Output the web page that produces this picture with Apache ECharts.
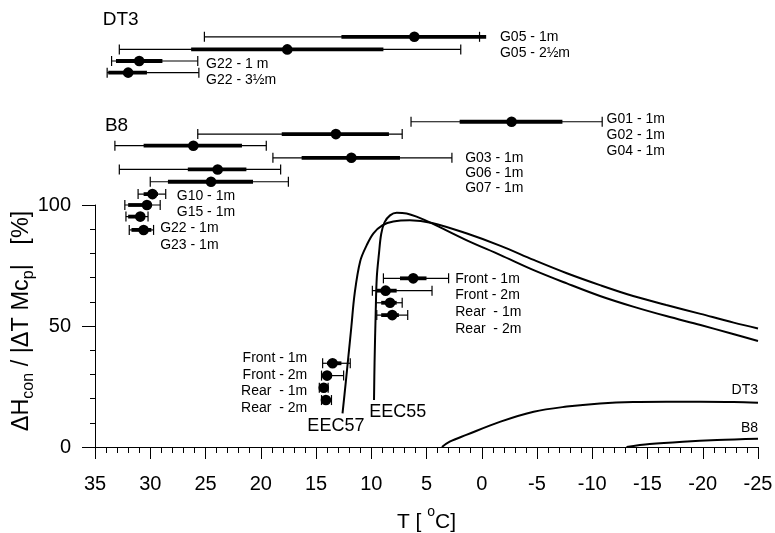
<!DOCTYPE html>
<html>
<head>
<meta charset="utf-8">
<script src="https://cdn.jsdelivr.net/npm/echarts@6/dist/echarts.min.js"></script>
<style>
  html, body { margin: 0; padding: 0; background: #fff; }
  #chart { width: 775px; height: 533px; }
</style>
</head>
<body>
<div id="chart"></div>
<script>
var FONT = "'Liberation Sans', Arial, sans-serif";

// x axis ticks (temperature, reversed)
var tMin = -25, tMax = 35, tStep = 5;

// curves [T, %]
var eec57 = [[12.6, 13.9], [12.3, 27], [12.1, 36], [11.8, 49.7], [11.5, 63.5], [11.0, 76.8], [10.4, 83.5],
  [9.8, 88.3], [9.0, 91.6], [8.0, 93.2], [6.5, 93.7], [4.5, 92.6], [1.4, 88.3], [-1.7, 83.1], [-4.7, 77.3],
  [-7.7, 71.8], [-10.7, 66.9], [-13.7, 62.4], [-16.7, 58.7], [-19.8, 55.0], [-22.8, 51.4], [-25, 49.0]];
var eec55 = [[9.75, 19.4], [9.7, 35], [9.6, 55], [9.5, 70], [9.3, 80], [9.1, 88], [8.8, 92.8], [8.3, 95.7],
  [7.7, 96.8], [6.8, 96.5], [5.9, 95.2], [4.5, 92.4], [1.4, 85.5], [-1.7, 79.3], [-4.7, 73.1], [-7.7, 67.6],
  [-10.7, 62.4], [-13.7, 58.0], [-16.7, 54.1], [-19.8, 50.4], [-22.5, 47.0], [-25, 43.8]];
var dt3Curve = [[3.6, 0], [2.9, 2.2], [1.4, 5.0], [-1.7, 10.5], [-4.7, 14.6], [-7.7, 16.7], [-10.7, 18.0],
  [-13.7, 18.6], [-16.7, 18.7], [-19.8, 18.7], [-22.8, 18.6], [-25, 18.3]];
var b8Curve = [[-13.1, 0], [-15.2, 1.2], [-18.2, 2.2], [-21.3, 2.9], [-25, 3.4]];

// error bars: [y, whisker lo, thick lo, dot, thick hi, whisker hi]
var dt3Bars = [
  [169.5, 25.1, 12.7, 6.1, -0.4, 0.2],
  [164.3, 32.8, 26.3, 17.6, 8.9, 1.9],
  [159.5, 33.5, 33.1, 31.0, 28.9, 25.7],
  [154.7, 33.9, 33.8, 32.0, 30.3, 25.6]
];
var b8Bars = [
  [134.4, 6.4, 2.0, -2.7, -7.3, -10.9],
  [129.3, 25.7, 18.1, 13.2, 8.4, 7.2],
  [124.5, 33.2, 30.6, 26.1, 21.7, 19.5],
  [119.5, 18.9, 16.3, 11.8, 7.4, 2.7],
  [114.7, 32.8, 26.6, 23.9, 21.3, 18.2],
  [109.6, 30.0, 28.4, 24.5, 20.7, 17.5]
];
var smallBars = [
  [104.5, 31.1, 30.6, 29.8, 29.3, 28.6],
  [100.0, 32.3, 32.0, 30.3, 29.9, 29.1],
  [95.2, 32.2, 32.0, 30.9, 30.5, 30.2],
  [89.7, 31.9, 31.7, 30.6, 29.9, 29.7]
];
var eec55Bars = [
  [69.7, 8.9, 7.4, 6.2, 5.0, 3.0],
  [64.6, 9.9, 9.5, 8.7, 7.7, 4.5],
  [59.6, 9.6, 9.1, 8.3, 7.7, 7.2],
  [54.5, 9.5, 9.1, 8.1, 7.5, 6.7]
];
var eec57Bars = [
  [34.6, 14.4, 14.0, 13.5, 12.7, 11.9],
  [29.5, 14.5, 14.3, 14.0, 13.6, 12.5],
  [24.5, 14.7, 14.6, 14.3, 14.0, 13.9],
  [19.4, 14.5, 14.4, 14.1, 13.8, 13.6]
];

// text labels: [T, %, text]
var smallLabelsLeft = [
  [-1.65, 169.4, 'G05 - 1m'], [-1.65, 162.8, 'G05 - 2½m'], [24.95, 158.3, 'G22 - 1 m'], [24.95, 151.7, 'G22 - 3½m'],
  [-11.3, 135.5, 'G01 - 1m'], [-11.3, 128.9, 'G02 - 1m'], [-11.3, 122.3, 'G04 - 1m'],
  [1.5, 119.2, 'G03 - 1m'], [1.5, 113.0, 'G06 - 1m'], [1.5, 106.8, 'G07 - 1m'],
  [27.6, 103.8, 'G10 - 1m'], [27.6, 97.2, 'G15 - 1m'], [29.1, 90.4, 'G22 - 1m'], [29.1, 83.5, 'G23 - 1m'],
  [2.4, 69.4, 'Front - 1m'], [2.4, 62.8, 'Front - 2m'], [2.4, 55.9, 'Rear  - 1m'], [2.4, 48.8, 'Rear  - 2m']
];
var smallLabelsRight = [
  [15.8, 36.6, 'Front - 1m'], [15.8, 29.8, 'Front - 2m'], [15.8, 22.9, 'Rear  - 1m'], [15.8, 16.0, 'Rear  - 2m'],
  [-25, 23.6, 'DT3'], [-25, 7.9, 'B8']
];
var groupTitles = [[34.3, 176.4, 'DT3'], [34.1, 132.9, 'B8']];
var curveNames = [[13.2, 8.8, 'EEC57'], [7.6, 14.6, 'EEC55']];

var chart = echarts.init(document.getElementById('chart'), null, { renderer: 'canvas' });

function barItem(params, api) {
  var y = api.value(0);
  var lo = api.coord([api.value(1), y]);
  var tlo = api.coord([api.value(2), y]);
  var dot = api.coord([api.value(3), y]);
  var thi = api.coord([api.value(4), y]);
  var hi = api.coord([api.value(5), y]);
  var st = { stroke: '#000', lineWidth: 1.2 };
  return {
    type: 'group',
    children: [
      { type: 'line', shape: { x1: lo[0], y1: lo[1], x2: hi[0], y2: hi[1] }, style: st },
      { type: 'line', shape: { x1: lo[0], y1: lo[1] - 5, x2: lo[0], y2: lo[1] + 5 }, style: st },
      { type: 'line', shape: { x1: hi[0], y1: hi[1] - 5, x2: hi[0], y2: hi[1] + 5 }, style: st },
      { type: 'line', shape: { x1: tlo[0], y1: tlo[1], x2: thi[0], y2: thi[1] }, style: { stroke: '#000', lineWidth: 3.8 } },
      { type: 'circle', shape: { cx: dot[0], cy: dot[1], r: 5.3 }, style: { fill: '#000' } }
    ]
  };
}

function barSeries(data) {
  return {
    type: 'custom', data: data, renderItem: barItem, clip: false, silent: true,
    encode: { x: [1, 2, 3, 4, 5], y: 0 }
  };
}

function textSeries(data, size, align) {
  return {
    type: 'custom', data: data, clip: false, silent: true,
    encode: { x: 0, y: 1 },
    renderItem: function (params, api) {
      var p = api.coord([data[params.dataIndex][0], data[params.dataIndex][1]]);
      return {
        type: 'text', x: p[0], y: p[1],
        style: {
          text: data[params.dataIndex][2], fontSize: size, fontFamily: FONT, fill: '#000',
          align: align, verticalAlign: 'middle'
        }
      };
    }
  };
}

function curve(data) {
  return {
    type: 'line', data: data, showSymbol: false, smooth: 0.35, silent: true,
    lineStyle: { color: '#000', width: 2 }
  };
}

chart.setOption({
  animation: false,
  backgroundColor: '#fff',
  grid: { left: 95, right: 17, top: 205, bottom: 86, containLabel: false, outerBoundsMode: 'none' },
  xAxis: {
    type: 'value', inverse: true, min: tMin, max: tMax, interval: tStep,
    axisLine: { onZero: false, lineStyle: { color: '#000', width: 1 } },
    axisTick: { length: 12, lineStyle: { color: '#000', width: 1 } },
    minorTick: { show: true, splitNumber: 5, length: 6, lineStyle: { color: '#000', width: 1 } },
    splitLine: { show: false },
    axisLabel: { fontSize: 20, color: '#000', fontFamily: FONT, margin: 27 },
    name: '{a|T [ }{sup|o}{a|C]}',
    nameLocation: 'middle', nameGap: 58, nameMoveOverlap: false,
    nameTextStyle: {
      fontFamily: FONT, color: '#000',
      rich: {
        a: { fontSize: 21, fontFamily: FONT, color: '#000', lineHeight: 28, verticalAlign: 'bottom' },
        sup: { fontSize: 14, fontFamily: FONT, color: '#000', lineHeight: 28, verticalAlign: 'top' }
      }
    }
  },
  yAxis: {
    type: 'value', min: 0, max: 100, interval: 50,
    axisLine: { show: true, onZero: false, lineStyle: { color: '#000', width: 1 } },
    axisTick: { show: true, length: 13, lineStyle: { color: '#000', width: 1 } },
    minorTick: { show: true, splitNumber: 5, length: 5, lineStyle: { color: '#000', width: 1 } },
    splitLine: { show: false },
    axisLabel: { fontSize: 20, color: '#000', fontFamily: FONT, margin: 24 },
    name: '{a|ΔH}{s|con}{a| / |ΔT Mc}{s|p}{a||   [%]}',
    nameLocation: 'middle', nameGap: 58, nameRotate: 90, nameMoveOverlap: false,
    nameTextStyle: {
      fontFamily: FONT, color: '#000', padding: [0, 0, 0, 10],
      rich: {
        a: { fontSize: 23.5, fontFamily: FONT, color: '#000', lineHeight: 30, verticalAlign: 'middle' },
        s: { fontSize: 16, fontFamily: FONT, color: '#000', lineHeight: 30, verticalAlign: 'bottom' }
      }
    }
  },
  series: [
    curve(eec57), curve(eec55), curve(dt3Curve), curve(b8Curve),
    barSeries(dt3Bars), barSeries(b8Bars), barSeries(smallBars), barSeries(eec55Bars), barSeries(eec57Bars),
    textSeries(smallLabelsLeft, 14, 'left'),
    textSeries(smallLabelsRight, 14, 'right'),
    textSeries(groupTitles, 19, 'left'),
    textSeries(curveNames, 18, 'center')
  ]
});
</script>
</body>
</html>
